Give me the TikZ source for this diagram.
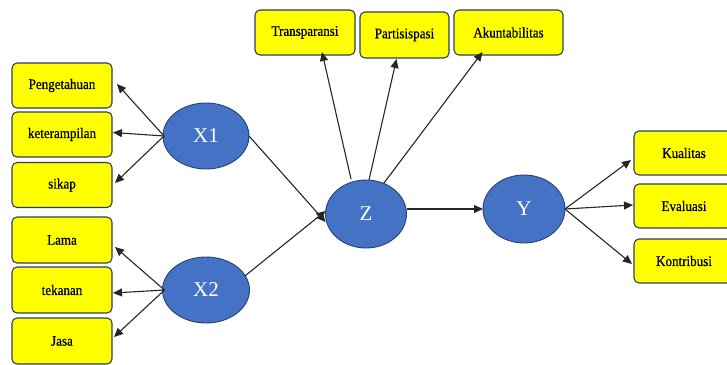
\documentclass[tikz,border=0pt]{standalone}
\usepackage{fontspec}
\setmainfont{Liberation Serif}
\newfontfamily\boxfont[FakeStretch=0.9,FakeBold=0.6]{Liberation Serif}
\usetikzlibrary{arrows.meta,shapes.geometric}
\definecolor{ellfill}{RGB}{68,114,196}
\definecolor{elldraw}{RGB}{40,66,115}
\definecolor{boxdraw}{RGB}{45,62,98}
\definecolor{boxfill}{RGB}{255,255,0}
\tikzset{
  latent/.style={ellipse, draw=elldraw, line width=0.9pt, fill=ellfill, text=white,
    inner sep=0pt, outer sep=0pt, font=\fontsize{21}{23}\selectfont},
  indic/.style={rectangle, rounded corners=5pt, draw=boxdraw, line width=1.1pt, fill=boxfill,
    inner sep=0pt, outer sep=0pt, font=\boxfont\fontsize{14.5}{16}\selectfont},
  arr/.style={draw=black!85, line width=1.1pt, -{Triangle[length=9pt,width=8pt]}}
}
\begin{document}
\begin{tikzpicture}[x=1pt,y=-1pt]
\useasboundingbox (0,0) rectangle (727,364);
% left indicators
\node[indic, minimum width=100pt, minimum height=45pt] (peng) at (62,85.5) {Pengetahuan};
\node[indic, minimum width=100pt, minimum height=45pt] (ket) at (62,134.5) {keterampilan};
\node[indic, minimum width=100pt, minimum height=45pt] (sik) at (62,185) {sikap};
\node[indic, minimum width=100pt, minimum height=46pt] (lama) at (62,240) {Lama};
\node[indic, minimum width=100pt, minimum height=46pt] (tek) at (62,290) {tekanan};
\node[indic, minimum width=100pt, minimum height=46pt] (jasa) at (62,341) {Jasa};
% top indicators
\node[indic, minimum width=100pt, minimum height=45pt] (trans) at (305,32.5) {Transparansi};
\node[indic, minimum width=89pt, minimum height=46pt] (part) at (404.5,35) {Partisispasi};
\node[indic, minimum width=109pt, minimum height=45pt] (akun) at (508.5,32.5) {Akuntabilitas};
% right indicators
\node[indic, minimum width=100pt, minimum height=44pt] (kual) at (684,153) {Kualitas};
\node[indic, minimum width=100pt, minimum height=44pt] (eval) at (684,206) {Evaluasi};
\node[indic, minimum width=100pt, minimum height=44pt] (kont) at (684,261) {Kontribusi};
% latent variables
\node[latent, minimum width=86pt, minimum height=66pt] (X1) at (206,136) {X1};
\node[latent, minimum width=87pt, minimum height=66pt] (X2) at (206,290) {X2};
\node[latent, minimum width=81pt, minimum height=68pt] (Z) at (366,214) {Z};
\node[latent, minimum width=82pt, minimum height=68pt] (Y) at (524,209) {Y};
% X1 arrows
\draw[arr] ([xshift=1pt]X1.west) -- ([xshift=5pt,yshift=1.5pt]peng.east);
\draw[arr] ([xshift=1pt]X1.west) -- ([xshift=1pt,yshift=2pt]ket.east);
\draw[arr] ([xshift=1pt]X1.west) -- ([xshift=3pt,yshift=2pt]sik.east);
% X2 arrows
\draw[arr] ([xshift=2pt]X2.west) -- ([xshift=3pt,yshift=-7pt]lama.east);
\draw[arr] ([xshift=2pt]X2.west) -- ([xshift=1pt,yshift=-3pt]tek.east);
\draw[arr] ([xshift=2pt]X2.west) -- ([xshift=2pt,yshift=4pt]jasa.east);
% to Z
\draw[arr] (X1.east) -- ([yshift=-8pt]Z.west);
\draw[arr] (X2.20) -- ([yshift=3pt]Z.west);
% Z to top
\draw[arr] ([xshift=-15pt,yshift=1pt]Z.north) -- ([xshift=17pt,yshift=3pt]trans.south);
\draw[arr] ([xshift=3pt]Z.north) -- ([xshift=-8pt,yshift=-1pt]part.south);
\draw[arr] (Z.60) -- ([xshift=-26pt,yshift=3pt]akun.south);
% Z to Y
\draw[arr] (Y.west -| Z.east) -- (Y.west);
% Y to right
\draw[arr] (Y.east) -- ([xshift=-3pt,yshift=-7pt]kual.west);
\draw[arr] (Y.east) -- ([xshift=-1pt,yshift=1pt]eval.west);
\draw[arr] (Y.east) -- ([xshift=-2pt,yshift=-3pt]kont.west);
\end{tikzpicture}
\end{document}
